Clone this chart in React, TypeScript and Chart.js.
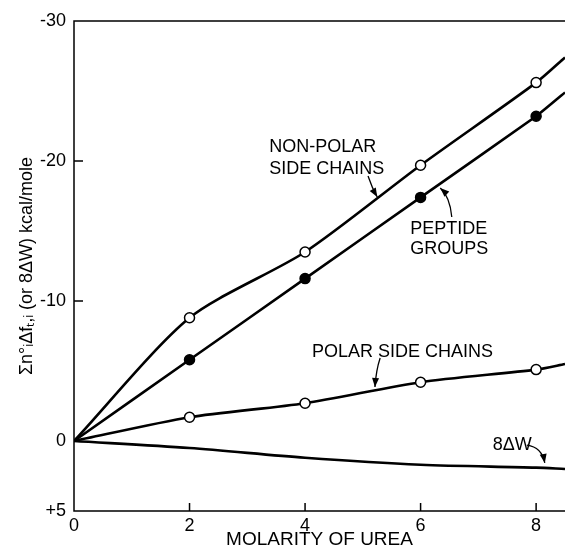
import React, { useEffect, useRef } from "react";
import { Chart, registerables } from "chart.js";

Chart.register(...registerables);

// ---- data ----
const molarity = [0, 2, 4, 6, 8, 8.5];
const nonPolar = [0, -8.8, -13.5, -19.7, -25.6, -27.4];
const peptide = [0, -5.8, -11.6, -17.4, -23.2, -24.9];
const polar = [0, -1.7, -2.7, -4.2, -5.1, -5.5];
const eightDeltaW = [0, 0.5, 1.2, 1.7, 1.9, 2.0];

const xTicks = [0, 2, 4, 6, 8];
const yTicks = [-30, -20, -10, 0, 5];
const yTickLabels = ["-30", "-20", "-10", "0", "+5"];

const xTitle = "MOLARITY OF UREA";
const yTitle = "Σn°ᵢΔfₜ,ᵢ (or 8ΔW) kcal/mole";

// annotation texts (anchored in data coordinates)
const textLabels = [
  { lines: ["NON-POLAR", "SIDE CHAINS"], x: 3.38, y: [-21.0, -19.43] },
  { lines: ["PEPTIDE", "GROUPS"], x: 5.82, y: [-15.14, -13.71] },
  { lines: ["POLAR SIDE CHAINS"], x: 4.12, y: [-6.36] },
  { lines: ["8ΔW"], x: 7.25, y: [0.29] },
];
const arrows = [
  { from: [5.09, -18.93], ctrl: [5.16, -18.07], to: [5.25, -17.43] },
  { from: [6.54, -16.0], ctrl: [6.51, -17.43], to: [6.34, -18.07] },
  { from: [5.3, -5.93], ctrl: [5.23, -5.07], to: [5.21, -3.86] },
  { from: [7.84, 0.29], ctrl: [8.1, 0.43], to: [8.15, 1.57] },
];

const FONT = '"Liberation Sans", Arial, sans-serif';
const markerRadius = [0, 5, 5, 5, 5, 0];

const pts = (ys: number[]) => molarity.map((x, i) => ({ x, y: ys[i] }));

const framePlugin = {
  id: "frameAndNotes",
  afterDraw(chart: any) {
    const { ctx, chartArea, scales } = chart;
    const { left, right, top, bottom } = chartArea;
    const xs = scales.x;
    const ys = scales.y;
    ctx.save();
    ctx.strokeStyle = "#000";
    ctx.lineWidth = 1.5;
    ctx.beginPath();
    ctx.moveTo(right, top);
    ctx.lineTo(left, top);
    ctx.lineTo(left, bottom);
    ctx.lineTo(right, bottom);
    xTicks.slice(1).forEach((v) => {
      const px = xs.getPixelForValue(v);
      ctx.moveTo(px, bottom);
      ctx.lineTo(px, bottom - 8);
    });
    [-20, -10].forEach((v) => {
      const py = ys.getPixelForValue(v);
      ctx.moveTo(left, py);
      ctx.lineTo(left + 9, py);
    });
    ctx.stroke();

    // texts
    ctx.fillStyle = "#000";
    ctx.font = `18px ${FONT}`;
    ctx.textAlign = "left";
    ctx.textBaseline = "middle";
    textLabels.forEach((t) => {
      const px = xs.getPixelForValue(t.x);
      t.lines.forEach((line, i) => {
        ctx.fillText(line, px, ys.getPixelForValue(t.y[i]));
      });
    });

    // arrows
    ctx.lineWidth = 1.3;
    arrows.forEach((a) => {
      const x0 = xs.getPixelForValue(a.from[0]);
      const y0 = ys.getPixelForValue(a.from[1]);
      const cx = xs.getPixelForValue(a.ctrl[0]);
      const cy = ys.getPixelForValue(a.ctrl[1]);
      const x1 = xs.getPixelForValue(a.to[0]);
      const y1 = ys.getPixelForValue(a.to[1]);
      ctx.beginPath();
      ctx.moveTo(x0, y0);
      ctx.quadraticCurveTo(cx, cy, x1, y1);
      ctx.stroke();
      const ang = Math.atan2(y1 - cy, x1 - cx);
      const len = 9;
      const w = 3.5;
      ctx.beginPath();
      ctx.moveTo(x1, y1);
      ctx.lineTo(
        x1 - len * Math.cos(ang) + w * Math.sin(ang),
        y1 - len * Math.sin(ang) - w * Math.cos(ang)
      );
      ctx.lineTo(
        x1 - len * Math.cos(ang) - w * Math.sin(ang),
        y1 - len * Math.sin(ang) + w * Math.cos(ang)
      );
      ctx.closePath();
      ctx.fill();
    });
    ctx.restore();
  },
};

export default function App() {
  const ref = useRef<HTMLCanvasElement | null>(null);
  useEffect(() => {
    if (!ref.current) return;
    const ds = (data: number[], fill: string, radius: number[] | number, tension: number) => ({
      data: pts(data),
      borderColor: "#000",
      borderWidth: 2.6,
      pointRadius: radius,
      pointBackgroundColor: fill,
      pointBorderColor: "#000",
      pointBorderWidth: 1.5,
      tension,
      fill: false,
    });
    const chart = new Chart(ref.current, {
      type: "line",
      data: {
        datasets: [
          ds(nonPolar, "#fff", markerRadius, 0.26),
          ds(peptide, "#000", markerRadius, 0.15),
          ds(polar, "#fff", markerRadius, 0.25),
          ds(eightDeltaW, "#000", 0, 0.3),
        ],
      },
      options: {
        animation: false,
        responsive: false,
        layout: { padding: { top: 21, right: 0, left: 0, bottom: 0 } },
        plugins: { legend: { display: false }, tooltip: { enabled: false } },
        scales: {
          x: {
            type: "linear",
            min: 0,
            max: 8.5,
            afterBuildTicks: (s: any) => {
              s.ticks = xTicks.map((v) => ({ value: v }));
            },
            afterFit: (s: any) => {
              s.height = 38;
            },
            grid: { display: false, drawTicks: false },
            border: { display: false },
            ticks: {
              color: "#000",
              font: { size: 18, family: FONT },
              padding: 4,
              maxRotation: 0,
              autoSkip: false,
              callback: (v: any) => String(v),
            },
            title: {
              display: true,
              text: xTitle,
              color: "#000",
              font: { size: 19, family: FONT, lineHeight: 1 },
              padding: { top: 0, bottom: 0 },
            },
          },
          y: {
            type: "linear",
            reverse: true,
            min: -30,
            max: 5,
            afterBuildTicks: (s: any) => {
              s.ticks = yTicks.map((v) => ({ value: v }));
            },
            afterFit: (s: any) => {
              s.width = 74;
            },
            grid: { display: false, drawTicks: false },
            border: { display: false },
            ticks: {
              color: "#000",
              font: { size: 18, family: FONT },
              padding: 8,
              autoSkip: false,
              callback: (v: any) => {
                const i = yTicks.indexOf(Number(v));
                return i >= 0 ? yTickLabels[i] : "";
              },
            },
            title: {
              display: true,
              text: yTitle,
              color: "#000",
              font: { size: 18, family: FONT, lineHeight: 1.2 },
              padding: { top: 16, bottom: 0 },
            },
          },
        },
      },
      plugins: [framePlugin],
    });
    return () => chart.destroy();
  }, []);
  return (
    <div style={{ position: "absolute", left: 0, top: 0, width: 565, height: 549, background: "#fff" }}>
      <canvas ref={ref} width={565} height={549} style={{ display: "block" }} />
    </div>
  );
}
